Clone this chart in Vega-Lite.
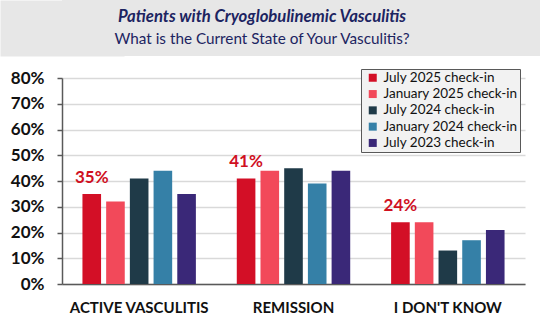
{
  "$schema": "https://vega.github.io/schema/vega-lite/v6.json",
  "padding": 0,
  "background": "white",
  "spacing": 12,
  "resolve": {"legend": {"color": "independent"}},
  "config": {"font": "Lato", "view": {"stroke": null}},
  "datasets": {
    "titles": [
      {"line": 1, "text": "Patients with Cryoglobulinemic Vasculitis"},
      {"line": 2, "text": "What is the Current State of Your Vasculitis?"}
    ],
    "survey": [
      {"answer": "ACTIVE VASCULITIS", "period": "July 2025 check-in", "pct": 0.35},
      {"answer": "ACTIVE VASCULITIS", "period": "January 2025 check-in", "pct": 0.32},
      {"answer": "ACTIVE VASCULITIS", "period": "July 2024 check-in", "pct": 0.41},
      {"answer": "ACTIVE VASCULITIS", "period": "January 2024 check-in", "pct": 0.44},
      {"answer": "ACTIVE VASCULITIS", "period": "July 2023 check-in", "pct": 0.35},
      {"answer": "REMISSION", "period": "July 2025 check-in", "pct": 0.41},
      {"answer": "REMISSION", "period": "January 2025 check-in", "pct": 0.44},
      {"answer": "REMISSION", "period": "July 2024 check-in", "pct": 0.45},
      {"answer": "REMISSION", "period": "January 2024 check-in", "pct": 0.39},
      {"answer": "REMISSION", "period": "July 2023 check-in", "pct": 0.44},
      {"answer": "I DON'T KNOW", "period": "July 2025 check-in", "pct": 0.24},
      {"answer": "I DON'T KNOW", "period": "January 2025 check-in", "pct": 0.24},
      {"answer": "I DON'T KNOW", "period": "July 2024 check-in", "pct": 0.13},
      {"answer": "I DON'T KNOW", "period": "January 2024 check-in", "pct": 0.17},
      {"answer": "I DON'T KNOW", "period": "July 2023 check-in", "pct": 0.21}
    ]
  },
  "vconcat": [
    {
      "width": 478,
      "height": 56,
      "view": {"fill": "#e7e7e7", "stroke": null},
      "data": {"name": "titles"},
      "encoding": {
        "y": {
          "field": "line", "type": "ordinal",
          "scale": {"type": "point", "padding": 0.72},
          "axis": {"title": null, "labels": false, "ticks": false, "grid": false, "domain": true, "domainWidth": 124, "domainColor": "#e7e7e7", "domainCap": "butt"}
        },
        "text": {"field": "text"}
      },
      "layer": [
        {
          "transform": [{"filter": "datum.line === 1"}],
          "mark": {"type": "text", "font": "Lato", "fontSize": 16.7, "fontWeight": "bold", "fontStyle": "italic", "color": "#1c2461", "dx": -39}
        },
        {
          "transform": [{"filter": "datum.line === 2"}],
          "mark": {"type": "text", "font": "Lato", "fontSize": 15.3, "color": "#1c2461", "dx": -39}
        }
      ]
    },
    {
      "width": 463,
      "height": 206,
      "data": {"name": "survey"},
      "encoding": {
        "x": {
          "field": "answer", "type": "nominal",
          "sort": ["ACTIVE VASCULITIS", "REMISSION", "I DON'T KNOW"],
          "scale": {"paddingInner": 0.265, "paddingOuter": 0.1325},
          "axis": {"title": null, "labelAngle": 0, "labelFontSize": 15, "labelFontWeight": "bold", "labelColor": "#111111", "ticks": false, "labelPadding": 16, "domainColor": "#595959", "domainWidth": 1.5, "grid": false}
        },
        "xOffset": {
          "field": "period", "type": "nominal",
          "scale": {"domain": ["July 2025 check-in", "January 2025 check-in", "July 2024 check-in", "January 2024 check-in", "July 2023 check-in"], "paddingInner": 0.215}
        },
        "y": {
          "field": "pct", "type": "quantitative",
          "scale": {"domain": [0, 0.8]},
          "axis": {"title": null, "format": ".0%", "values": [0, 0.1, 0.2, 0.3, 0.4, 0.5, 0.6, 0.7, 0.8], "labelFontSize": 17, "labelFontWeight": "bold", "labelColor": "#111111", "tickSize": 5, "tickColor": "#595959", "tickWidth": 1.5, "domainColor": "#595959", "domainWidth": 1.5, "gridColor": "#d9d9d9", "gridWidth": 1.5, "labelPadding": 13, "minExtent": 62}
        }
      },
      "layer": [
        {
          "mark": {"type": "bar"},
          "encoding": {
            "color": {
              "field": "period", "type": "nominal",
              "scale": {"domain": ["July 2025 check-in", "January 2025 check-in", "July 2024 check-in", "January 2024 check-in", "July 2023 check-in"], "range": ["#d30f26", "#f2495a", "#1f3a48", "#3580a7", "#3a2878"]},
              "legend": {"title": null, "orient": "none", "legendX": 299, "legendY": -9, "fillColor": "#f2f2f2", "strokeColor": "#595959", "padding": 2, "symbolOffset": 3, "symbolType": "square", "symbolSize": 64, "symbolStrokeWidth": 0, "labelFontSize": 13.5, "labelColor": "#111111", "rowPadding": 1.3, "labelOffset": 4}
            }
          }
        },
        {
          "transform": [{"filter": "datum.period === 'July 2025 check-in'"}],
          "mark": {"type": "text", "font": "Lato", "fontSize": 17, "fontWeight": "bold", "color": "#d0101f", "baseline": "alphabetic", "dy": -11},
          "encoding": {"text": {"field": "pct", "type": "quantitative", "format": ".0%"}}
        }
      ]
    }
  ]
}
